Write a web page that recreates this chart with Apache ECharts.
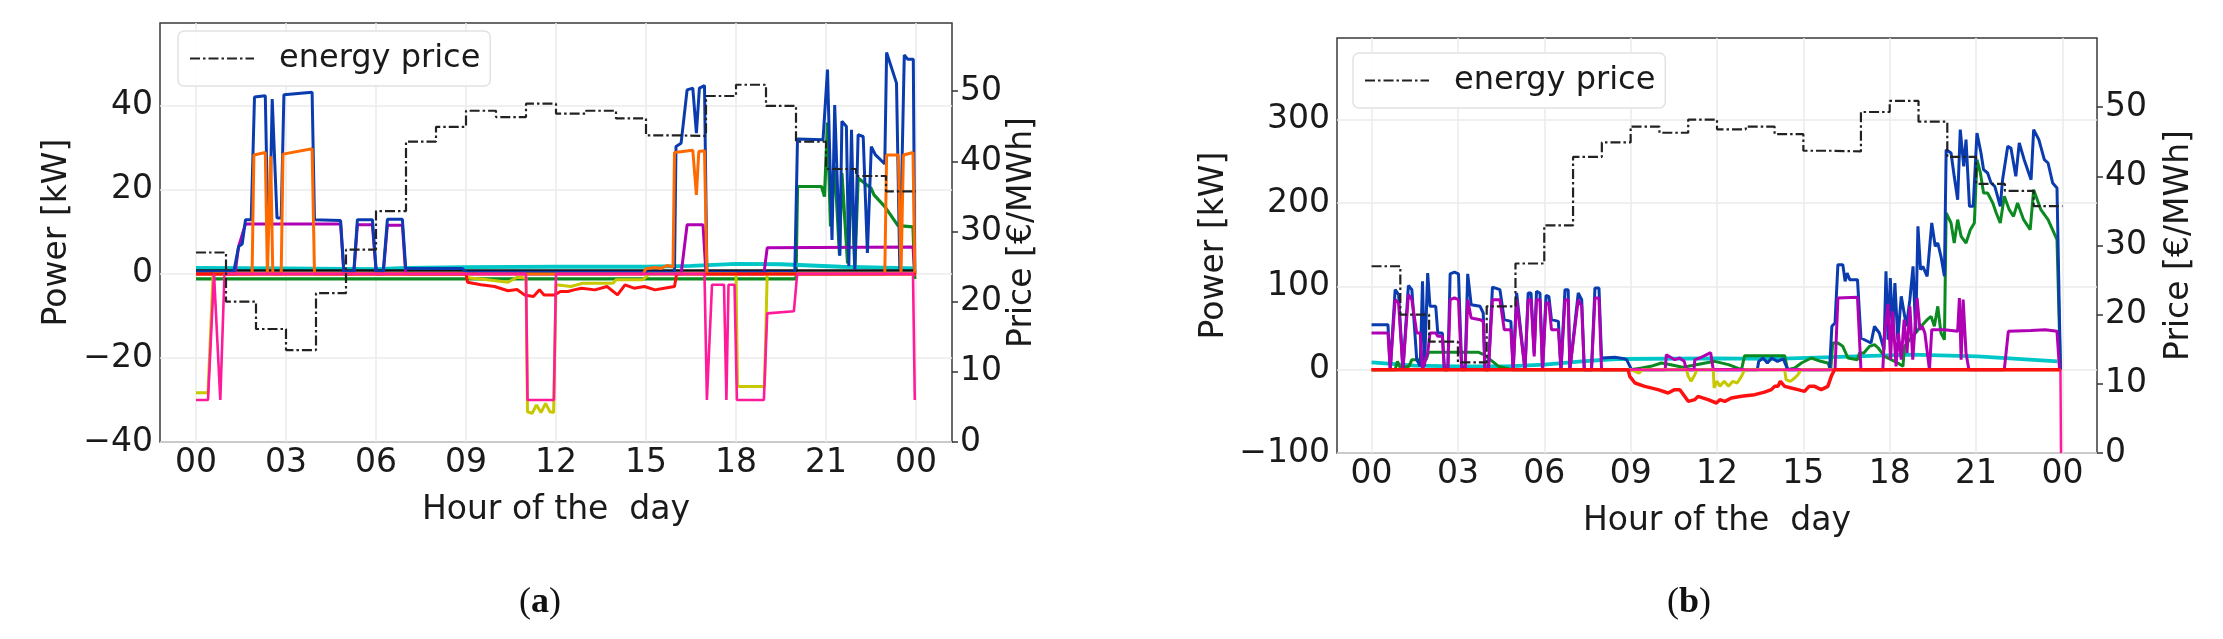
<!DOCTYPE html>
<html><head><meta charset="utf-8">
<script src="https://cdn.jsdelivr.net/npm/echarts@6/dist/echarts.min.js"></script>
<style>html,body{margin:0;padding:0;background:#fff;}#c{width:2223px;height:639px;}</style>
</head><body><div id="c"></div>
<script>
// ---------- axis ticks / labels ----------
const hourTicks = [0, 3, 6, 9, 12, 15, 18, 21, 24];
const hourTickLabels = ['00', '03', '06', '09', '12', '15', '18', '21', '00'];
const priceTicks = [0, 10, 20, 30, 40, 50];
const powerTicksA = [-40, -20, 0, 20, 40];
const powerTicksB = [-100, 0, 100, 200, 300];

// ---------- energy price (€/MWh), hourly, same day for both panels ----------
const energyPrice = [27.0, 20.0, 16.1, 13.1, 21.2, 27.4, 32.9, 42.8, 44.9, 47.2, 46.3, 48.2,
                     46.8, 47.2, 46.1, 43.7, 43.6, 49.3, 50.9, 47.9, 42.8, 38.9, 37.9, 35.7];

// ---------- panel (a): power [kW], [hour, kW] ----------
const aBlue = [[0,0.5],[1.26,0.5],[1.42,6.5],[1.54,7.1],[1.65,12.9],[1.84,12.9],[1.95,42.1],[2.31,42.4],[2.39,13.0],[2.46,13.0],[2.54,41.6],[2.70,13.3],[2.84,13.3],[2.93,42.6],[3.87,43.2],[3.95,12.9],[4.82,12.7],[4.93,0.5],[5.26,0.5],[5.38,12.9],[5.88,12.9],[6.01,0.5],[6.24,0.5],[6.38,13.0],[6.88,13.0],[6.99,1.3],[8.88,1.3],[9.0,0.4],[15.95,0.4],[16.0,30.3],[16.17,31.1],[16.37,43.8],[16.56,44.2],[16.68,33.5],[16.78,44.2],[16.95,44.8],[17.03,0.4],[19.96,0.4],[20.05,32.1],[20.90,31.9],[21.05,48.6],[21.20,8.1],[21.29,40.2],[21.46,4.3],[21.53,36.3],[21.68,35.1],[21.76,1.8],[21.85,34.3],[21.96,1.0],[22.07,33.1],[22.24,32.7],[22.38,5.0],[22.51,30.3],[22.65,28.3],[22.96,26.2],[23.02,52.7],[23.35,45.4],[23.46,1.0],[23.61,52.1],[23.72,51.1],[23.91,51.1],[23.96,0.4]];
const aOrange = [[0,0],[1.87,0],[1.93,28.3],[2.31,28.9],[2.38,0],[2.44,0],[2.49,28.0],[2.56,0],[2.84,0],[2.90,28.5],[3.87,29.8],[3.95,0],[14.9,0],[15.0,1.2],[15.3,1.5],[15.5,1.3],[15.7,2.0],[15.9,1.6],[15.95,28.9],[16.56,29.4],[16.68,18.8],[16.76,29.1],[16.95,29.3],[17.03,0],[22.96,0],[23.02,28.3],[23.41,28.3],[23.5,0],[23.58,28.3],[23.9,28.9],[23.96,0]];
const aMagenta = [[0,0],[1.30,0],[1.42,6.5],[1.65,11.9],[4.82,11.9],[4.93,0],[5.26,0],[5.38,11.7],[5.88,11.7],[6.01,0],[6.24,0],[6.38,11.6],[6.88,11.6],[6.99,0],[16.17,0],[16.37,11.7],[16.9,11.7],[17.0,0],[18.93,0],[19.04,6.2],[23.9,6.4],[23.96,0]];
const aGreen = [[0,-1.2],[20.0,-1.2],[20.05,20.8],[20.85,20.8],[20.95,18.4],[21.05,36.0],[21.15,11.3],[21.29,25.6],[21.45,4.5],[21.53,24.0],[21.72,2.5],[21.85,24.0],[21.96,1.0],[22.07,22.8],[22.3,21.5],[22.5,20.4],[22.6,18.8],[22.96,16.0],[23.4,11.5],[23.9,11.2],[23.96,-1.2]];
const aCyan = [[0,1.4],[3,1.3],[6,1.1],[7,1.4],[9,1.6],[12,1.7],[15,1.7],[16.5,1.9],[18,2.4],[19.5,2.3],[21.5,1.7],[24,1.3]];
const aBlack = [[0,0.8],[24,0.8]];
const aRed = [[0,0],[9.0,0],[9.05,-2.0],[9.5,-2.6],[9.95,-3.0],[10.4,-4.0],[10.7,-3.7],[10.95,-5.0],[11.25,-5.4],[11.45,-3.8],[11.6,-5.0],[11.95,-5.0],[12.15,-4.2],[12.4,-4.2],[12.6,-3.8],[12.85,-3.4],[13.3,-3.8],[13.7,-3.0],[14.05,-5.0],[14.3,-2.6],[14.6,-3.4],[14.95,-3.0],[15.3,-3.8],[15.6,-3.4],[15.95,-3.0],[16.02,0],[24,0]];
const aYellow = [[0,-28.3],[0.4,-28.3],[0.57,0],[9.0,0],[9.1,-1.0],[9.5,-1.2],[10.4,-2.0],[10.7,-0.8],[11.0,-1.0],[11.05,-32.8],[11.2,-33.2],[11.35,-31.2],[11.5,-33.0],[11.65,-30.8],[11.8,-32.8],[11.92,-33.0],[12.0,-2.6],[12.5,-3.0],[12.9,-2.2],[13.9,-2.2],[14.0,-1.4],[14.9,-1.4],[15.1,0],[18.0,0],[18.05,-26.8],[18.95,-26.8],[19.04,0],[24,0]];
const aPink = [[0,-30],[0.4,-30],[0.6,0],[0.81,-30],[0.95,0],[11.0,0],[11.05,-30],[11.93,-30],[12.0,0],[16.95,0],[17.03,-30],[17.2,-2.6],[17.6,-2.6],[17.68,-30],[17.75,-2.6],[17.95,-2.6],[18.03,-30],[18.93,-30],[19.04,-9.4],[19.93,-8.9],[20.04,0],[23.9,0],[23.96,-30]];

// ---------- panel (b): power [kW], [hour, kW] ----------
const bBlue = [[0,54],[0.57,54],[0.65,0],[0.82,96],[0.94,90],[1.09,0],[1.28,101],[1.40,96],[1.57,12],[1.69,4],[1.77,106],[1.84,4],[1.95,116],[2.03,76],[2.23,76],[2.30,44],[2.46,44],[2.53,0],[2.65,0],[2.73,115],[2.88,117],[3.02,115],[3.13,4],[3.25,0],[3.34,115],[3.46,78],[3.77,76],[3.88,68],[3.94,0],[4.06,0],[4.20,99],[4.46,96],[4.61,60],[4.84,58],[4.92,0],[5.04,92],[5.19,44],[5.33,0],[5.44,92],[5.54,92],[5.65,20],[5.73,94],[5.85,92],[5.94,0],[6.06,89],[6.16,88],[6.25,60],[6.49,58],[6.58,0],[6.72,96],[6.83,96],[6.89,0],[7.18,92],[7.30,84],[7.39,0],[7.64,0],[7.76,98],[7.90,98],[7.99,14],[8.45,15],[8.78,13],[8.86,12],[9.03,0],[13.4,0],[13.45,10],[13.6,14],[13.75,8],[13.9,14],[14.1,10],[14.3,13],[14.46,0],[15.91,0],[15.99,52],[16.1,56],[16.2,126],[16.37,126],[16.45,106],[16.52,116],[16.61,108],[16.88,108],[17.0,38],[17.35,32],[17.47,52],[17.64,44],[17.8,24],[17.87,118],[17.94,36],[18.02,110],[18.1,44],[18.18,104],[18.28,36],[18.4,88],[18.5,68],[18.58,52],[18.7,84],[18.81,124],[18.9,44],[18.98,172],[19.07,120],[19.15,124],[19.3,112],[19.46,176],[19.58,148],[19.67,152],[19.78,136],[19.9,112],[19.96,264],[20.13,260],[20.24,232],[20.36,204],[20.45,288],[20.57,244],[20.65,276],[20.77,196],[20.9,196],[21.03,284],[21.17,260],[21.26,240],[21.4,236],[21.52,224],[21.65,220],[21.84,196],[21.92,228],[22.1,268],[22.21,266],[22.38,232],[22.5,272],[22.67,252],[22.91,228],[23.0,288],[23.18,276],[23.37,252],[23.5,248],[23.66,224],[23.81,218],[23.93,0]];
const bMagenta = [[0,44],[0.57,44],[0.65,0],[0.82,84],[0.94,80],[1.09,0],[1.28,90],[1.40,84],[1.57,44],[1.69,44],[1.77,0],[1.95,20],[2.03,44],[2.23,44],[2.30,40],[2.46,40],[2.53,0],[2.65,0],[2.73,84],[2.88,86],[3.02,84],[3.13,0],[3.25,0],[3.34,84],[3.46,62],[3.77,60],[3.88,58],[3.94,0],[4.06,0],[4.20,84],[4.46,84],[4.61,48],[4.84,48],[4.92,0],[5.04,84],[5.19,40],[5.33,0],[5.44,84],[5.54,84],[5.65,16],[5.73,84],[5.85,84],[5.94,0],[6.06,80],[6.16,80],[6.25,48],[6.49,48],[6.58,0],[6.72,84],[6.83,84],[6.89,0],[7.18,84],[7.30,76],[7.39,0],[7.64,0],[7.76,86],[7.90,86],[7.99,0],[10.2,0],[10.24,18],[10.53,12],[10.7,14],[10.86,10],[10.94,0],[11.2,0],[11.23,12],[11.4,14],[11.57,16.8],[11.78,20.4],[11.87,0],[16.1,0],[16.2,86],[16.88,87],[17.0,0],[17.76,0],[17.82,44],[17.94,79],[18.03,12],[18.1,70],[18.22,4],[18.3,44],[18.4,12],[18.5,60],[18.6,20],[18.7,76],[18.8,12],[18.95,86],[19.05,48],[19.13,52],[19.22,44],[19.38,0],[19.46,48],[19.67,48],[19.9,48],[20.36,46],[20.42,86],[20.48,12],[20.55,84],[20.65,20],[20.75,0],[21.98,0],[22.12,46],[22.9,47],[23.4,48],[23.81,46],[23.9,0]];
const bGreen = [[0,0],[0.82,0],[0.9,10],[1.0,2],[1.3,4],[1.4,12],[1.9,12],[1.98,20.8],[3.72,20.8],[3.9,18],[4.2,10],[4.41,4],[4.88,0],[9.0,0],[9.38,2],[9.7,4],[10.07,8],[10.4,6],[10.8,3],[11.0,4],[11.92,10],[12.4,6],[12.85,0],[12.96,16.8],[14.35,16.8],[14.45,0],[14.7,2],[14.93,8],[15.28,14],[15.6,10],[15.85,8],[15.95,0],[16.02,32],[16.2,32],[16.37,28],[16.55,14],[16.88,12],[16.95,20],[17.1,20],[17.3,28],[17.47,30],[17.6,26],[17.82,16],[18.05,12],[18.28,8],[18.46,4],[18.51,28],[18.7,36],[19.09,52],[19.3,60],[19.44,64],[19.55,52],[19.67,76],[19.78,44],[19.9,36],[19.96,188],[20.13,176],[20.24,152],[20.36,180],[20.48,160],[20.65,152],[20.8,168],[20.94,176],[21.03,252],[21.15,236],[21.26,212],[21.4,212],[21.58,200],[21.7,188],[21.84,176],[21.98,208],[22.15,192],[22.3,184],[22.44,200],[22.65,180],[22.88,168],[23.0,216],[23.25,192],[23.5,180],[23.81,156],[23.93,0]];
const bCyan = [[0,8.8],[1.5,4.8],[3,4],[4.7,4],[6,6],[7.3,10],[8.5,12.8],[12,13.5],[14,13],[16,15],[18.75,18],[21.05,16],[23.83,10]];
const bRed = [[0,0],[8.91,0],[8.97,-8],[9.15,-16],[9.49,-20],[9.95,-24],[10.3,-28],[10.53,-24],[10.71,-24],[11.0,-38],[11.23,-36],[11.34,-32],[11.69,-36],[11.98,-40],[12.1,-36],[12.27,-38],[12.5,-34],[12.85,-32],[13.31,-30],[13.65,-27],[13.89,-24],[14.0,-20],[14.12,-20],[14.2,-14],[14.35,-20],[14.58,-22],[14.81,-24],[15.04,-26],[15.2,-20],[15.39,-20],[15.62,-24],[15.85,-20],[15.97,-8],[16.08,0],[23.93,0]];
const bYellow = [[0,0],[9.0,0],[9.15,-2],[9.3,-4],[9.4,0],[10.94,0],[11.0,-8],[11.1,-14],[11.23,-6],[11.3,0],[11.87,0],[11.9,-22],[12.0,-14],[12.1,-20],[12.25,-14],[12.4,-20],[12.55,-14],[12.7,-16],[12.85,-8],[12.96,0],[14.35,0],[14.4,-12],[14.55,-14],[14.7,-10],[14.81,-6],[14.93,0],[23.9,0]];
const bPink = [[0,0],[23.93,0],[23.95,-100]];

// ---------- styling ----------
const FONT = 'DejaVu Sans';
const TXT = '#1a1a1a';
const GRIDC = '#ebebeb';
const C = {blue:'#0a3cb0', orange:'#ff6a00', magenta:'#b000b4', green:'#0a8a20', cyan:'#00c6c8',
           black:'#111111', red:'#ff1010', yellow:'#c8c800', pink:'#ff1a9a', price:'#222222'};
const minus = v => String(v).replace('-', '\u2212');

function xAxisFor(gi) {
  return {
    type: 'value', gridIndex: gi, min: -1.2, max: 25.2,
    name: 'Hour of the  day', nameLocation: 'middle', nameGap: 52,
    nameTextStyle: {fontFamily: FONT, fontSize: 33, color: TXT},
    axisLine: {show: false},
    axisTick: {show: false, customValues: hourTicks},
    axisLabel: {customValues: hourTicks, formatter: v => hourTickLabels[hourTicks.indexOf(v)],
                fontFamily: FONT, fontSize: 33, color: TXT, margin: 5},
    splitLine: {show: true, lineStyle: {color: GRIDC, width: 1.5}}
  };
}
function leftAxis(gi, min, max, ticks, gap) {
  return {
    type: 'value', gridIndex: gi, position: 'left', min, max,
    name: 'Power [kW]', nameLocation: 'middle', nameRotate: 90, nameGap: gap,
    nameTextStyle: {fontFamily: FONT, fontSize: 33, color: TXT},
    axisLine: {show: false},
    axisTick: {show: false, customValues: ticks},
    axisLabel: {customValues: ticks, formatter: minus, fontFamily: FONT, fontSize: 33, color: TXT, margin: 7},
    splitLine: {show: true, lineStyle: {color: GRIDC, width: 1.5}}
  };
}
function rightAxis(gi, max, gap) {
  return {
    type: 'value', gridIndex: gi, position: 'right', min: 0, max,
    name: 'Price [€/MWh]', nameLocation: 'middle', nameRotate: 90, nameGap: gap,
    nameTextStyle: {fontFamily: FONT, fontSize: 33, color: TXT},
    axisLine: {show: false},
    axisTick: {show: true, customValues: priceTicks, inside: false, length: 6, lineStyle: {color: '#333', width: 1.5}},
    axisLabel: {customValues: priceTicks, fontFamily: FONT, fontSize: 33, color: TXT, margin: 8},
    splitLine: {show: false}
  };
}
function line(name, data, color, xi, yi, width, z) {
  return {type: 'line', name, data, xAxisIndex: xi, yAxisIndex: yi, symbol: 'none', showSymbol: false,
          lineStyle: {color, width}, itemStyle: {color}, z, silent: true, animation: false};
}
const priceData = energyPrice.map((p, i) => [i, p]).concat([[24, energyPrice[23]]]);
function priceSeries(xi, yi) {
  return {type: 'line', name: 'energy price', data: priceData, step: 'end', xAxisIndex: xi, yAxisIndex: yi,
          symbol: 'none', showSymbol: false, z: 20, animation: false,
          lineStyle: {color: C.price, width: 2.2, type: [10, 3, 2.5, 3]}, itemStyle: {color: C.price}};
}
function legendAt(left, top) {
  return {
    show: true, left, top, orient: 'horizontal', data: ['energy price'],
    itemWidth: 64, itemHeight: 20, selectedMode: false,
    itemStyle: {color: 'rgba(0,0,0,0)', borderColor: 'rgba(0,0,0,0)', borderWidth: 0, opacity: 0},
    backgroundColor: 'rgba(255,255,255,0.9)', borderColor: '#e2e2e2', borderWidth: 1.5, borderRadius: 6,
    padding: [8, 10, 8, 11],
    textStyle: {fontFamily: FONT, fontSize: 32, color: TXT, lineHeight: 39, padding: [0, 0, 0, 20]}
  };
}

const chart = echarts.init(document.getElementById('c'), null, {renderer: 'canvas'});
chart.setOption({
  backgroundColor: '#ffffff',
  animation: false,
  grid: [
    {left: 160, top: 23, width: 792, height: 419, show: true, borderColor: '#3a3a3a', borderWidth: 1.5, backgroundColor: 'transparent'},
    {left: 1337, top: 38, width: 760, height: 415, show: true, borderColor: '#3a3a3a', borderWidth: 1.5, backgroundColor: 'transparent'}
  ],
  xAxis: [xAxisFor(0), xAxisFor(1)],
  yAxis: [leftAxis(0, -40, 59.7, powerTicksA, 86), rightAxis(0, 59.7, 50),
          leftAxis(1, -100, 398, powerTicksB, 106), rightAxis(1, 60, 66)],
  legend: [legendAt(178, 31), legendAt(1353, 53)],
  series: [
    line('a-green', aGreen, C.green, 0, 0, 3.2, 2),
    line('a-cyan', aCyan, C.cyan, 0, 0, 3.8, 2),
    line('a-black', aBlack, C.black, 0, 0, 2.5, 3),
    line('a-magenta', aMagenta, C.magenta, 0, 0, 3, 4),
    line('a-blue', aBlue, C.blue, 0, 0, 3, 5),
    line('a-orange', aOrange, C.orange, 0, 0, 3, 6),
    line('a-yellow', aYellow, C.yellow, 0, 0, 3, 7),
    line('a-red', aRed, C.red, 0, 0, 3, 8),
    line('a-pink', aPink, C.pink, 0, 0, 2.6, 9),
    priceSeries(0, 1),
    line('b-cyan', bCyan, C.cyan, 1, 2, 3.8, 2),
    line('b-green', bGreen, C.green, 1, 2, 3, 3),
    line('b-blue', bBlue, C.blue, 1, 2, 3, 4),
    line('b-magenta', bMagenta, C.magenta, 1, 2, 3, 5),
    line('b-yellow', bYellow, C.yellow, 1, 2, 3, 6),
    line('b-pink', bPink, C.pink, 1, 2, 2.5, 7),
    line('b-red', bRed, C.red, 1, 2, 3.5, 8),
    priceSeries(1, 3)
  ],
  graphic: [
    {type: 'text', x: 540, y: 603, style: {text: '{p|(}{b|a}{p|)}', align: 'center', verticalAlign: 'middle',
      rich: {p: {fontFamily: 'Liberation Serif', fontSize: 36, fill: '#111'}, b: {fontFamily: 'Liberation Serif', fontSize: 36, fontWeight: 'bold', fill: '#111'}}}},
    {type: 'text', x: 1689, y: 603, style: {text: '{p|(}{b|b}{p|)}', align: 'center', verticalAlign: 'middle',
      rich: {p: {fontFamily: 'Liberation Serif', fontSize: 36, fill: '#111'}, b: {fontFamily: 'Liberation Serif', fontSize: 36, fontWeight: 'bold', fill: '#111'}}}}
  ]
});
</script></body></html>
